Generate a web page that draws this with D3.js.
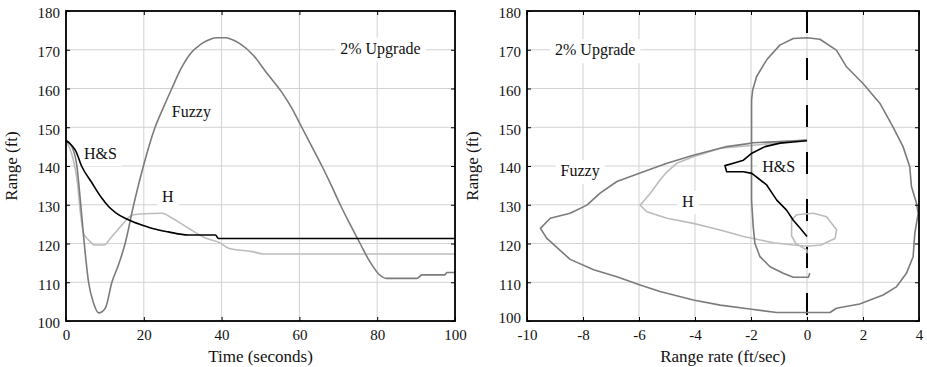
<!DOCTYPE html>
<html>
<head>
<meta charset="utf-8">
<script src="https://cdn.jsdelivr.net/npm/d3@7"></script>
<style>
  body { margin: 0; background: #fff; }
  svg text { font-family: "Liberation Serif", "Times New Roman", serif; fill: #111; }
</style>
</head>
<body>
<svg id="chart" width="927" height="367"></svg>
<script>
// tick values
const timeTicks = [0, 20, 40, 60, 80, 100];
const rateTicks = [-10, -8, -6, -4, -2, 0, 2, 4];
const rangeTicks = [100, 110, 120, 130, 140, 150, 160, 170, 180];

// left panel: range vs time
const fuzzyTime = [0, 1.5, 2.8, 3.7, 4.6, 5.8, 7.1, 8.4, 10.1, 11.8, 13.5, 15.2, 17.4, 19.9, 22.9, 25, 27.2, 29.5, 32.4, 34.5, 36.6, 38.5, 41, 42.5, 44.8, 48.2, 51.6, 55.5, 58, 60.6, 63.2, 65.8, 68.2, 70.5, 73, 75.6, 78, 80.5, 82.4, 90.2, 91.5, 97.4, 97.9, 100];
const fuzzyRange = [146.7, 145, 140, 131, 121, 110, 104.6, 102.1, 103.3, 110, 114.5, 120, 130, 140, 150, 155, 160, 165, 169.5, 171.3, 172.5, 173.1, 173.1, 172.7, 171.5, 168.5, 164, 159, 155, 150, 145, 140, 135, 130, 125, 120, 115.5, 112, 111, 111, 111.9, 111.9, 112.5, 112.5];

const hsTime = [0, 1, 2.4, 4.1, 6.7, 9, 11, 13, 15.2, 17.5, 19.5, 22.5, 26.3, 31.4, 38.4, 39.2, 100];
const hsRange = [146.5, 145.8, 144.1, 139.8, 135.6, 132, 129.5, 127.8, 126.5, 125.5, 124.8, 123.8, 123, 122.2, 122.2, 121.3, 121.3];

const hTime = [0, 1.5, 2.9, 3.7, 4.5, 5.8, 7.5, 9.7, 11.8, 14.4, 16.9, 19.1, 24.7, 27.2, 31.4, 35.8, 39.7, 41.8, 47.8, 50.8, 100];
const hRange = [146.5, 143, 136, 128, 122.7, 120.9, 119.6, 119.6, 121.8, 124.8, 127.3, 127.6, 127.8, 126.6, 124, 121.4, 120.1, 118.8, 117.9, 117.3, 117.3];

// right panel: range vs range rate (phase plane)
const fuzzyRate = [0, -0.97, -1.92, -2.16, -2.87, -3.1, -4.06, -5.0, -5.84, -6.79, -7.39, -7.86, -8.46, -9.17, -9.52, -9.29, -8.46, -7.62, -6.79, -5.96, -5.25, -4.06, -3.1, -2.04, -1.09, 0, 0.82, 1.05, 1.88, 2.72, 3.19, 3.55, 3.79, 3.85, 3.97, 3.91, 3.73, 3.67, 3.43, 3.07, 2.6, 2.0, 1.41, 1.05, 0.46, 0, -0.49, -0.97, -1.44, -1.8, -1.94, -1.98, -1.98, -1.98, -1.92, -1.86, -1.68, -1.32, -0.85, -0.49, 0.05, 0.1];
const fuzzyPhaseRange = [146.7, 146.3, 146, 145.7, 145, 144.6, 142.8, 140.7, 138.5, 136, 133, 129.9, 127.8, 126.5, 123.9, 121.3, 115.9, 113.2, 111.4, 109.3, 107.6, 105.4, 104.1, 103.1, 102.2, 102.2, 102.2, 103.3, 104.4, 106.7, 108.8, 112.3, 116.6, 122.6, 127.8, 130.4, 134.7, 139.8, 145, 150.1, 156.2, 161.3, 165.6, 169.9, 172.7, 173.1, 172.9, 171.2, 167.4, 163.1, 159.6, 157, 148.4, 131.2, 124.3, 120, 116.6, 114, 112.3, 111.3, 111.3, 112.3];

const hRate = [0, -0.97, -2.0, -3.1, -4.06, -4.65, -5.0, -5.25, -5.6, -5.96, -5.72, -5.0, -4.06, -3.1, -2.27, -1.2, -0.49, 0, 0.5, 1.0, 1.06, 0.7, 0.23, -0.37, -0.55, -0.55, -0.4, 0, 0];
const hPhaseRange = [146.7, 146, 145.3, 144.6, 142.4, 140.7, 138.5, 136.4, 132.9, 129.9, 128.2, 126.5, 125.2, 123.5, 121.8, 120.2, 119.6, 119.3, 119.6, 121.3, 123.5, 126.9, 127.8, 127.4, 126.1, 122, 120, 118.3, 117.5];

const hsRate = [0, -0.5, -0.96, -1.5, -1.97, -2.27, -2.6, -2.93, -2.87, -2.27, -1.97, -1.44, -1.08, -0.73, -0.49, -0.25, 0];
const hsPhaseRange = [146.5, 146.2, 145.9, 145, 143.3, 141.5, 140.8, 140.1, 138.5, 138.5, 138.1, 135.1, 131.2, 128.6, 126, 124, 121.8];

// annotations (data coordinates, text starts at x, baseline at y)
const leftNotes = [
  { text: "2% Upgrade", x: 70.5, y: 169 },
  { text: "Fuzzy", x: 27.2, y: 152.6 },
  { text: "H&S", x: 4.6, y: 141.8 },
  { text: "H", x: 24.7, y: 130.7 }
];
const rightNotes = [
  { text: "2% Upgrade", x: -9.0, y: 168.6 },
  { text: "Fuzzy", x: -8.8, y: 137.4 },
  { text: "H", x: -4.46, y: 129.4 },
  { text: "H&S", x: -1.6, y: 138.5 }
];

const colors = { fuzzy: "#7b7b7b", h: "#bcbcbc", hs: "#000" };
const serif = '"Liberation Serif", "Times New Roman", serif';

const svg = d3.select("#chart");
const plotTop = 11, plotBottom = 321;

function zip(xs, ys) { return xs.map((x, i) => [x, ys[i]]); }

function drawPanel(opt) {
  const x = d3.scaleLinear().domain(opt.xDomain).range(opt.xRange);
  const y = d3.scaleLinear().domain([100, 180]).range([plotBottom, plotTop]);
  const g = svg.append("g");

  // grid
  g.append("g").selectAll("line").data(opt.xTicks).join("line")
    .attr("x1", d => x(d)).attr("x2", d => x(d))
    .attr("y1", plotTop).attr("y2", plotBottom)
    .attr("stroke", "#d2d2d2").attr("stroke-width", 1);
  g.append("g").selectAll("line").data(rangeTicks).join("line")
    .attr("x1", opt.xRange[0]).attr("x2", opt.xRange[1])
    .attr("y1", d => y(d)).attr("y2", d => y(d))
    .attr("stroke", "#d2d2d2").attr("stroke-width", 1);

  // annotation text with white boxes
  const notes = g.append("g").selectAll("g").data(opt.notes).join("g");
  const texts = notes.append("text")
    .attr("x", d => x(d.x)).attr("y", d => y(d.y))
    .style("font-family", serif)
    .attr("font-size", 16)
    .text(d => d.text);
  texts.each(function() {
    const b = this.getBBox();
    d3.select(this.parentNode).insert("rect", "text")
      .attr("x", b.x - 5).attr("y", b.y - 2)
      .attr("width", b.width + 10).attr("height", b.height + 6)
      .attr("fill", "#fff");
  });

  if (opt.dashedZero) {
    g.append("line")
      .attr("x1", x(0)).attr("x2", x(0)).attr("y1", plotTop).attr("y2", plotBottom)
      .attr("stroke", "#000").attr("stroke-width", 2)
      .attr("stroke-dasharray", "22,25");
  }

  const line = d3.line().x(d => x(d[0])).y(d => y(d[1])).curve(opt.curve);
  g.append("g").selectAll("path").data(opt.series).join("path")
    .attr("d", d => line(d.values))
    .attr("fill", "none")
    .attr("stroke", d => d.color)
    .attr("stroke-width", 1.6)
    .attr("stroke-linejoin", "round");

  // frame
  g.append("rect")
    .attr("x", opt.xRange[0]).attr("y", plotTop)
    .attr("width", opt.xRange[1] - opt.xRange[0]).attr("height", plotBottom - plotTop)
    .attr("fill", "none").attr("stroke", "#000").attr("stroke-width", 1.8);

  // inward ticks on all four sides
  g.append("g").attr("transform", `translate(0,${plotBottom})`)
    .call(d3.axisBottom(x).tickValues(opt.xTicks).tickSize(-4).tickFormat(""))
    .call(a => a.select(".domain").remove());
  g.append("g").attr("transform", `translate(0,${plotTop})`)
    .call(d3.axisTop(x).tickValues(opt.xTicks).tickSize(-4).tickFormat(""))
    .call(a => a.select(".domain").remove());
  g.append("g").attr("transform", `translate(${opt.xRange[0]},0)`)
    .call(d3.axisLeft(y).tickValues(rangeTicks).tickSize(-4).tickFormat(""))
    .call(a => a.select(".domain").remove());
  g.append("g").attr("transform", `translate(${opt.xRange[1]},0)`)
    .call(d3.axisRight(y).tickValues(rangeTicks).tickSize(-4).tickFormat(""))
    .call(a => a.select(".domain").remove());

  // tick labels
  const yLab = g.append("g").attr("transform", `translate(${opt.xRange[0] - 6},0)`)
    .call(d3.axisLeft(y).tickValues(rangeTicks).tickSize(0).tickPadding(0).tickFormat(d => String(d)))
    .call(a => a.select(".domain").remove());
  yLab.selectAll("text").attr("font-size", 15).style("font-family", serif).attr("fill", "#111")
    .attr("dy", d => (d === 100 && opt.raiseBottom) ? "0.1em" : "0.45em");
  g.append("g").attr("transform", `translate(0,${plotBottom + 8})`)
    .call(d3.axisBottom(x).tickValues(opt.xTicks).tickSize(0).tickPadding(0).tickFormat(d => String(d)))
    .call(a => a.select(".domain").remove())
    .selectAll("text").attr("font-size", 15).style("font-family", serif).attr("fill", "#111");

  // titles
  g.append("text")
    .attr("transform", `translate(${opt.xRange[0] - 49},${(plotTop + plotBottom) / 2}) rotate(-90)`)
    .attr("text-anchor", "middle").attr("font-size", 17).style("font-family", serif)
    .text("Range (ft)");
  g.append("text")
    .attr("x", (opt.xRange[0] + opt.xRange[1]) / 2).attr("y", 362)
    .attr("text-anchor", "middle").attr("font-size", 17).style("font-family", serif)
    .text(opt.xTitle);
}

drawPanel({
  xDomain: [0, 100], xRange: [66, 455], xTicks: timeTicks,
  xTitle: "Time (seconds)", notes: leftNotes, dashedZero: false, raiseBottom: false,
  curve: d3.curveMonotoneX,
  series: [
    { color: colors.h, values: zip(hTime, hRange) },
    { color: colors.fuzzy, values: zip(fuzzyTime, fuzzyRange) },
    { color: colors.hs, values: zip(hsTime, hsRange) }
  ]
});

drawPanel({
  xDomain: [-10, 4], xRange: [527, 919], xTicks: rateTicks,
  xTitle: "Range rate (ft/sec)", notes: rightNotes, dashedZero: true, raiseBottom: true,
  curve: d3.curveLinear,
  series: [
    { color: colors.h, values: zip(hRate, hPhaseRange) },
    { color: colors.fuzzy, values: zip(fuzzyRate, fuzzyPhaseRange) },
    { color: colors.hs, values: zip(hsRate, hsPhaseRange) }
  ]
});
</script>
</body>
</html>
